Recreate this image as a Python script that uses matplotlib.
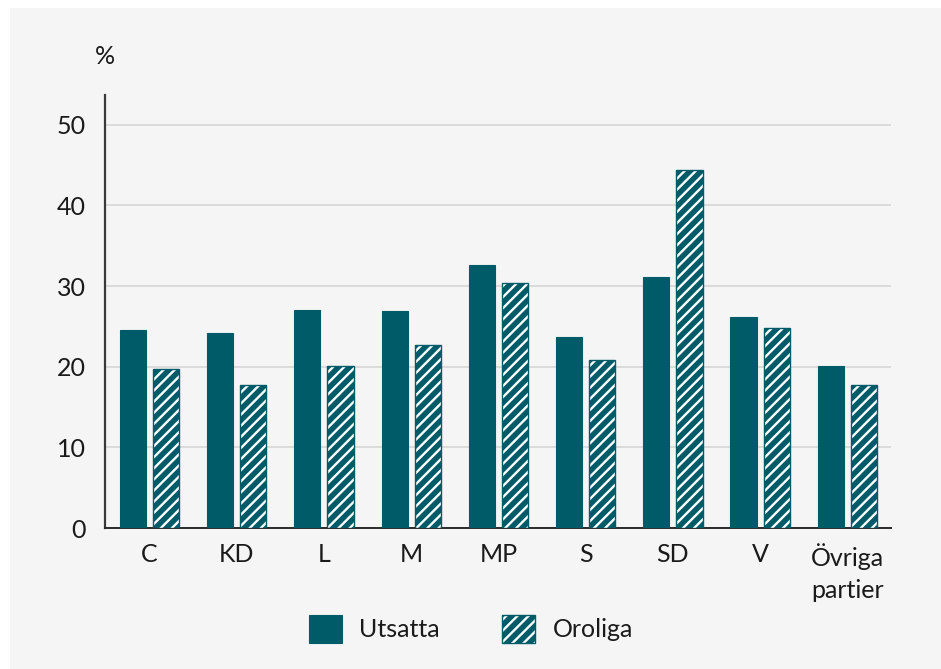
import matplotlib
matplotlib.use("Agg")
import matplotlib.pyplot as plt
from matplotlib.patches import Patch, Rectangle
from matplotlib.legend_handler import HandlerTuple
import numpy as np

categories = ["C", "KD", "L", "M", "MP", "S", "SD", "V", "Övriga\npartier"]
utsatta = [24.6, 24.2, 27.0, 26.9, 32.6, 23.7, 31.1, 26.2, 20.1]
oroliga = [19.7, 17.7, 20.1, 22.7, 30.4, 20.8, 44.4, 24.8, 17.7]
series_names = ["Utsatta", "Oroliga"]
yticks = [0, 10, 20, 30, 40, 50]

TEAL = "#005B68"
BG = "#F5F5F5"
TXT = "#1A1A1A"

plt.rcParams["font.family"] = ["Lato", "DejaVu Sans"]
plt.rcParams["hatch.linewidth"] = 1.7

fig = plt.figure(figsize=(9.41, 6.69), dpi=100)
fig.patch.set_facecolor("white")
fig.add_artist(Rectangle((10 / 941, 0), 1 - 10 / 941, 1 - 8 / 669,
                         transform=fig.transFigure, facecolor=BG,
                         edgecolor="none", zorder=-10))

ax = fig.add_axes([105 / 941, 1 - 528 / 669, (891 - 105) / 941, (528 - 95) / 669])
ax.set_facecolor(BG)
ax.patch.set_alpha(0)

x = np.arange(len(categories))
w = 0.30
off = 0.19
ax.bar(x - off, utsatta, w, color=TEAL, edgecolor=TEAL, linewidth=0.8, zorder=3)
ax.bar(x + off, oroliga, w, color=TEAL, edgecolor="white", hatch="///", linewidth=0, zorder=3)
ax.bar(x + off, oroliga, w, color="none", edgecolor=TEAL, linewidth=1.0, zorder=4)

ax.set_xlim(-0.51, 8.5)
ax.set_ylim(0, 53.7)
ax.set_yticks(yticks)
ax.set_yticklabels([str(t) for t in yticks])
ax.set_xticks(x)
ax.set_xticklabels(categories, linespacing=1.45)
ax.tick_params(axis="both", length=0, labelsize=18, colors=TXT)
ax.tick_params(axis="y", pad=14)
ax.tick_params(axis="x", pad=11)
for lab in ax.get_xticklabels():
    lab.set_verticalalignment("top")

ax.grid(axis="y", color="#D6D6D6", linewidth=1.2, zorder=0)
ax.set_axisbelow(True)
for s in ["top", "right"]:
    ax.spines[s].set_visible(False)
ax.spines["left"].set_color("#3A3A3A")
ax.spines["left"].set_linewidth(1.6)
ax.spines["bottom"].set_color("#2A2A2A")
ax.spines["bottom"].set_linewidth(1.4)

fig.text(105 / 941, 1 - 57 / 669, "%", ha="center", va="center", fontsize=18, color=TXT)

h1 = Patch(facecolor=TEAL, edgecolor=TEAL, linewidth=0.8)
h2a = Patch(facecolor=TEAL, edgecolor="white", hatch="///", linewidth=0)
h2b = Patch(facecolor="none", edgecolor=TEAL, linewidth=1.0)
fig.legend([h1, (h2a, h2b)], series_names, loc="center",
           bbox_to_anchor=(471 / 941, 1 - 629 / 669), ncol=2, frameon=False,
           fontsize=18, handlelength=1.3, handleheight=1.3, handletextpad=0.7,
           columnspacing=2.5, labelcolor=TXT,
           handler_map={tuple: HandlerTuple(ndivide=1, pad=0)})

fig.savefig("out.png", dpi=100, facecolor="white")
